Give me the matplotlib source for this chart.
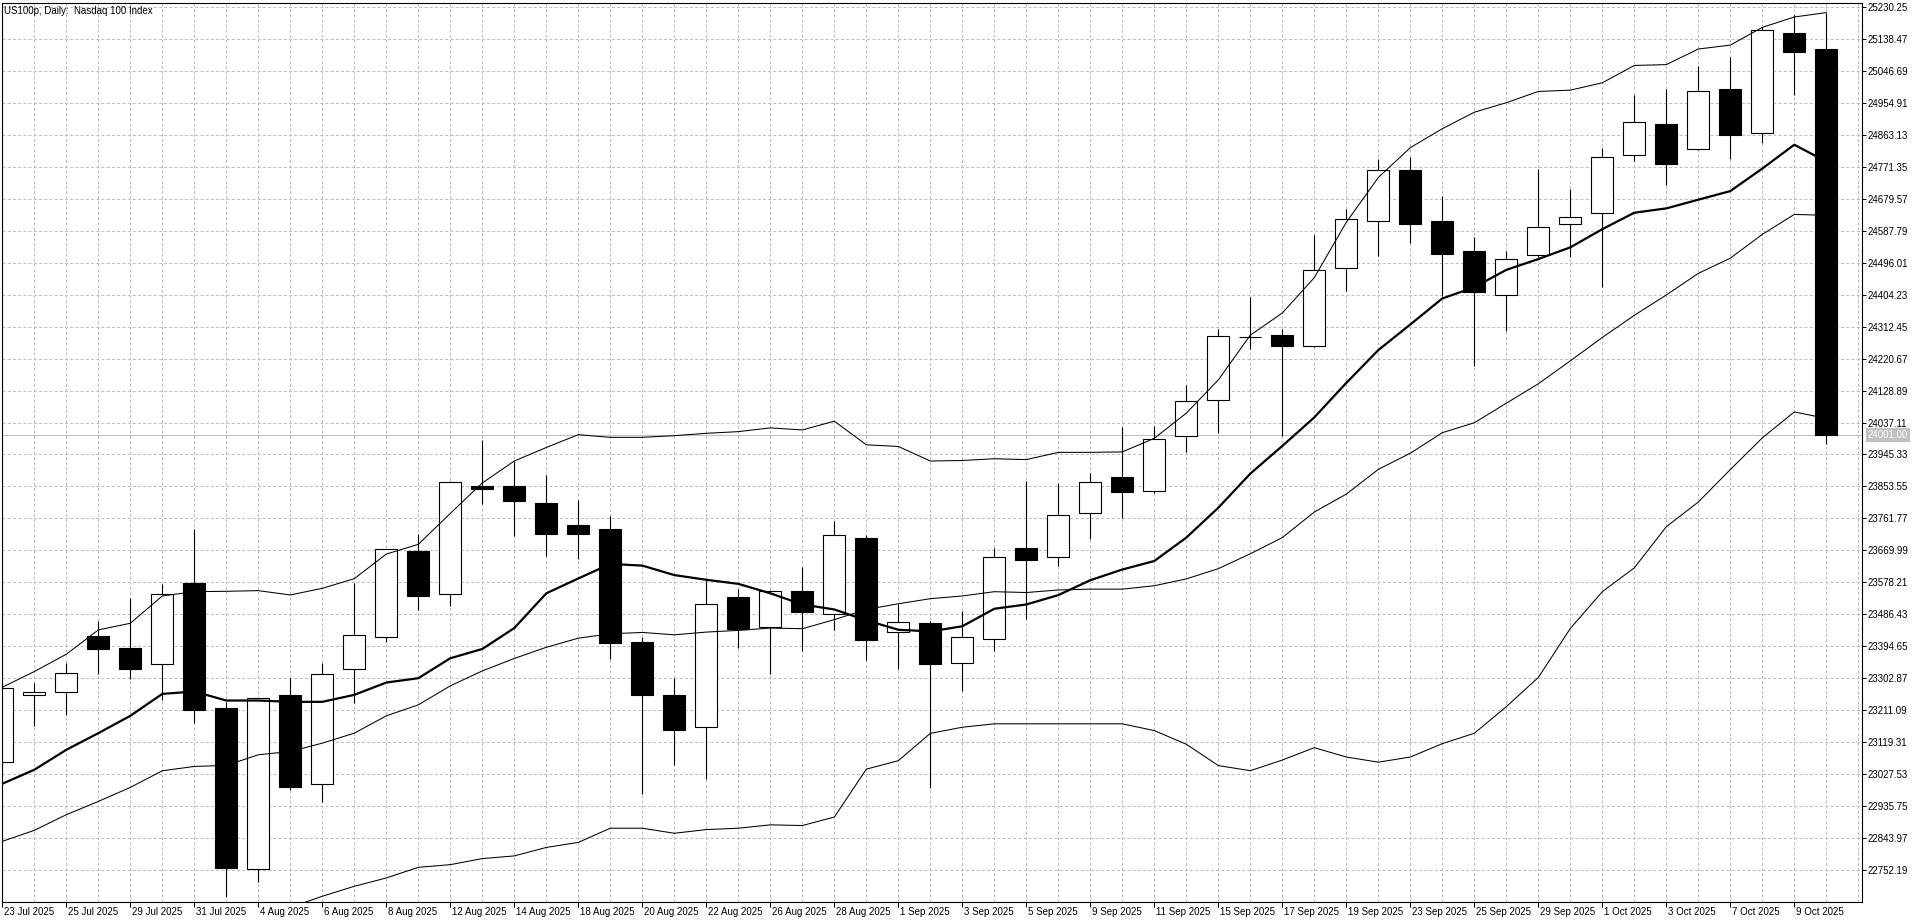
import matplotlib
matplotlib.use("Agg")
import matplotlib.pyplot as plt
import matplotlib.transforms as mtransforms
import numpy as np

plt.rcParams['font.family'] = ['Liberation Sans', 'DejaVu Sans']

# Fechas de las barras diarias (23 Jul 2025 - 10 Oct 2025)
dates = ['23 Jul', '24 Jul', '25 Jul', '28 Jul', '29 Jul', '30 Jul', '31 Jul',
         '1 Aug', '4 Aug', '5 Aug', '6 Aug', '7 Aug', '8 Aug', '11 Aug',
         '12 Aug', '13 Aug', '14 Aug', '15 Aug', '18 Aug', '19 Aug', '20 Aug',
         '21 Aug', '22 Aug', '25 Aug', '26 Aug', '27 Aug', '28 Aug', '29 Aug',
         '1 Sep', '2 Sep', '3 Sep', '4 Sep', '5 Sep', '8 Sep', '9 Sep',
         '10 Sep', '11 Sep', '12 Sep', '15 Sep', '16 Sep', '17 Sep', '18 Sep',
         '19 Sep', '22 Sep', '23 Sep', '24 Sep', '25 Sep', '26 Sep', '29 Sep',
         '30 Sep', '1 Oct', '2 Oct', '3 Oct', '6 Oct', '7 Oct', '8 Oct',
         '9 Oct', '10 Oct']

opens = [23061.9, 23256.0, 23262.7, 23423.3, 23388.9, 23343.0, 23576.3, 23216.8,
         22755.1, 23254.1, 22998.8, 23328.7, 23422.4, 23668.0, 23543.8, 23853.9,
         23853.9, 23805.5, 23742.5, 23731.8, 23408.1, 23255.9, 23162.9, 23537.0,
         23448.8, 23553.5, 23488.5, 23706.6, 23434.3, 23462.4, 23345.7, 23416.7,
         23676.1, 23651.6, 23777.7, 23880.5, 23841.3, 23999.2, 24102.0, 24282.0,
         24288.0, 24257.4, 24480.1, 24614.7, 24762.8, 24614.7, 24528.9, 24404.5,
         24518.9, 24608.4, 24639.5, 24805.0, 24894.5, 24823.6, 24995.2, 24869.6,
         25155.6, 25109.6]
highs = [23290.0, 23290.4, 23347.8, 23466.3, 23533.2, 23574.4, 23732.1, 23235.9,
         23247.4, 23303.8, 23346.8, 23577.2, 23674.7, 23716.8, 23868.8, 23986.7,
         23926.6, 23885.9, 23813.2, 23769.6, 23420.7, 23303.4, 23587.4, 23560.3,
         23556.4, 23621.3, 23755.1, 23713.4, 23516.6, 23466.0, 23495.0, 23676.1,
         23869.5, 23862.1, 23892.7, 24024.9, 24028.5, 24143.6, 24306.3, 24398.1,
         24306.3, 24575.5, 24649.0, 24793.3, 24798.2, 24686.8, 24569.9, 24528.9,
         24763.9, 24706.7, 24826.1, 24977.8, 24994.0, 25059.9, 25087.2, 25171.8,
         25207.9, 25211.6]
lows = [23050.0, 23164.2, 23197.7, 23315.3, 23301.9, 23240.7, 23173.8, 22674.8,
        22717.8, 22982.6, 22946.3, 23233.1, 23408.0, 23498.8, 23510.3, 23804.5,
        23711.4, 23655.2, 23645.5, 23356.7, 22969.1, 23052.4, 23012.7, 23388.7,
        23316.0, 23381.9, 23440.1, 23354.8, 23330.6, 22986.5, 23266.1, 23380.0,
        23474.2, 23624.7, 23703.0, 23764.2, 23836.0, 23951.4, 24006.5, 24248.8,
        23999.2, 24255.0, 24414.0, 24514.3, 24553.5, 24399.5, 24198.1, 24300.0,
        24512.7, 24512.7, 24425.6, 24788.8, 24719.1, 24818.6, 24792.5, 24838.5,
        24976.5, 23974.2]
closes = [23274.2, 23262.7, 23317.2, 23386.0, 23330.6, 23543.8, 23213.0, 22757.0,
          23245.5, 22989.3, 23314.3, 23426.2, 23672.8, 23539.9, 23865.9, 23846.2,
          23810.3, 23718.2, 23718.2, 23403.2, 23254.0, 23154.1, 23516.6, 23444.9,
          23553.5, 23492.4, 23713.4, 23412.0, 23464.3, 23343.1, 23421.6, 23651.6,
          23643.1, 23771.6, 23865.8, 23837.6, 23990.6, 24098.3, 24284.3, 24284.0,
          24257.4, 24474.0, 24622.0, 24762.8, 24606.1, 24521.4, 24413.2, 24507.7,
          24599.7, 24628.3, 24800.0, 24900.7, 24780.1, 24989.0, 24863.4, 25164.3,
          25102.2, 24001.0]

# Media movil rapida (linea gruesa)
ma_fast = [22999.8, 23040.0, 23097.3, 23145.1, 23194.8, 23257.9, 23264.6, 23238.8,
           23238.8, 23235.0, 23235.0, 23255.1, 23290.4, 23302.9, 23360.2, 23386.8,
           23446.9, 23546.7, 23589.3, 23631.0, 23626.2, 23599.0, 23585.5, 23573.8,
           23546.7, 23514.7, 23500.2, 23469.1, 23442.0, 23437.2, 23452.0, 23502.3,
           23514.6, 23541.5, 23584.3, 23614.9, 23639.4, 23706.7, 23792.4, 23890.3,
           23969.8, 24051.8, 24150.9, 24245.1, 24318.6, 24393.3, 24425.6, 24475.4,
           24506.5, 24540.1, 24592.3, 24639.5, 24652.0, 24676.9, 24701.7, 24766.4,
           24834.8, 24786.3]
# Bandas de Bollinger
bb_mid = [22834.4, 22866.0, 22910.9, 22949.1, 22989.3, 23037.1, 23049.5, 23052.4,
          23083.0, 23092.5, 23116.4, 23145.1, 23194.8, 23226.4, 23280.9, 23323.8,
          23359.6, 23391.6, 23417.8, 23430.4, 23434.3, 23427.5, 23435.3, 23440.1,
          23446.9, 23445.0, 23471.1, 23500.2, 23516.6, 23531.2, 23539.0, 23551.3,
          23548.9, 23556.2, 23558.6, 23558.6, 23568.4, 23588.0, 23617.4, 23660.2,
          23706.7, 23780.1, 23831.5, 23902.5, 23949.0, 24007.8, 24036.4, 24092.4,
          24148.3, 24214.2, 24281.4, 24344.9, 24403.3, 24465.4, 24509.0, 24577.4,
          24634.6, 24632.1]
bb_up = [23277.0, 23322.0, 23371.7, 23441.5, 23460.6, 23539.0, 23551.4, 23552.4,
         23554.3, 23541.9, 23561.0, 23588.7, 23659.4, 23687.2, 23776.1, 23863.6,
         23926.6, 23965.4, 24002.2, 23994.5, 23994.5, 23999.3, 24006.1, 24010.9,
         24021.6, 24015.8, 24041.0, 23973.1, 23968.3, 23926.6, 23928.0, 23933.1,
         23930.6, 23951.4, 23951.4, 23952.7, 23991.8, 24064.0, 24159.5, 24288.0,
         24351.6, 24453.2, 24612.2, 24740.7, 24826.4, 24880.8, 24928.1, 24955.4,
         24987.8, 24991.5, 25012.6, 25062.4, 25064.8, 25109.6, 25120.8, 25171.8,
         25201.6, 25214.1]
bb_low = [22391.8, 22410.0, 22450.1, 22456.7, 22518.0, 22535.2, 22547.6, 22552.4,
          22611.7, 22644.7, 22676.7, 22705.4, 22729.3, 22759.8, 22767.5, 22784.9,
          22792.6, 22816.9, 22831.4, 22872.1, 22872.1, 22857.6, 22868.2, 22872.1,
          22881.8, 22879.8, 22904.1, 23041.7, 23066.0, 23144.5, 23162.1, 23171.9,
          23171.9, 23171.9, 23171.9, 23171.9, 23152.4, 23113.2, 23052.0, 23037.3,
          23067.9, 23103.4, 23076.5, 23061.8, 23076.5, 23115.0, 23144.7, 23221.1,
          23305.0, 23445.7, 23551.4, 23619.8, 23737.9, 23808.8, 23902.1, 23992.9,
          24067.5, 24048.8]

price_ticks = [25230.25, 25138.47, 25046.69, 24954.91, 24863.13, 24771.35, 24679.57,
               24587.79, 24496.01, 24404.23, 24312.45, 24220.67, 24128.89, 24037.11,
               23945.33, 23853.55, 23761.77, 23669.99, 23578.21, 23486.43, 23394.65,
               23302.87, 23211.09, 23119.31, 23027.53, 22935.75, 22843.97, 22752.19]
last_price = 24001.00
title = "US100p, Daily:  Nasdaq 100 Index"

W, H = 1920, 923
fig = plt.figure(figsize=(W / 100, H / 100), dpi=100)
fig.patch.set_facecolor('white')
ax = fig.add_axes([2 / W, (H - 901.7) / H, 1860 / W, 899.0 / H])
ax.set_facecolor('white')

x = np.arange(len(closes))
o = np.array(opens)
c = np.array(closes)
bull = c >= o

# Velas
ax.vlines(x, lows, highs, color='black', lw=0.8, zorder=2)
ax.bar(x[bull], (c - o)[bull], bottom=o[bull], width=0.69, color='white',
       edgecolor='black', lw=0.8, zorder=2.5)
ax.bar(x[~bull], (o - c)[~bull], bottom=c[~bull], width=0.69, color='black',
       edgecolor='black', lw=0.8, zorder=2.5)

# Indicadores
ax.plot(x, ma_fast, color='black', lw=1.6, zorder=3)
ax.plot(x, bb_mid, color='black', lw=0.75, zorder=3)
ax.plot(x, bb_up, color='black', lw=0.75, zorder=3)
ax.plot(x, bb_low, color='black', lw=0.75, zorder=3)

ax.axhline(last_price, color='#c0c0c0', lw=0.8, zorder=1.5)

ax.set_xlim(-0.01, -0.01 + 1860 / 32)
ax.set_ylim(22661.1, 25242.6)

# Ejes y rejilla
ax.set_yticks(price_ticks)
ax.set_yticklabels([f"{p:.2f}" for p in price_ticks])
ax.yaxis.tick_right()
ax.tick_params(axis='y', which='major', direction='out', length=2.9, width=0.75,
               pad=1.2, labelsize=7, colors='black')

lab_idx = list(range(0, len(dates), 2))
ax.set_xticks(lab_idx)
ax.set_xticklabels([dates[i] + " 2025" for i in lab_idx], ha='left')
ax.set_xticks(np.arange(0, 59), minor=True)
ax.tick_params(axis='x', which='major', direction='out', length=3.6, width=0.75,
               pad=0.5, labelsize=7, colors='black')
ax.tick_params(axis='x', which='minor', length=0)
shift = mtransforms.ScaledTranslation(1.5 / 100, 0, fig.dpi_scale_trans)
for lab in ax.get_xticklabels():
    lab.set_transform(lab.get_transform() + shift)

ax.grid(axis='y', which='major', color='#c0c0c0', lw=0.75, linestyle=(0, (3, 2)), zorder=0)
ax.grid(axis='x', which='both', color='#c0c0c0', lw=0.75, linestyle=(0, (3, 2)), zorder=0)
ax.set_axisbelow(True)

for s in ax.spines.values():
    s.set_color('black')
    s.set_linewidth(0.8)

# Etiqueta del precio actual
trans = mtransforms.blended_transform_factory(ax.transAxes, ax.transData)
ax.text(1.0, last_price, f"{last_price:.2f}", transform=trans + mtransforms.ScaledTranslation(5.5 / 100, 0, fig.dpi_scale_trans),
        ha='left', va='center', fontsize=7, color='white', clip_on=False,
        bbox=dict(boxstyle='square,pad=0.18', fc='#c0c0c0', ec='none'))

fig.text(3.5 / W, 1 - 5.5 / H, title, ha='left', va='top', fontsize=7, color='black')

fig.savefig("out.png", dpi=100, facecolor='white')
